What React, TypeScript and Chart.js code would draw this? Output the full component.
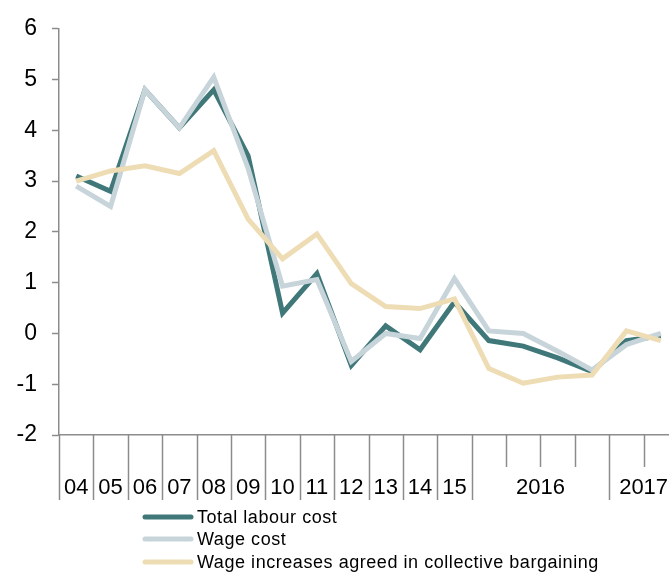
import React, { useEffect, useRef } from "react";
import { Chart, registerables } from "chart.js";

Chart.register(...registerables);

// ---- data ----
const annualLabels = ["04", "05", "06", "07", "08", "09", "10", "11", "12", "13", "14", "15"];
const quarterYears = ["2016", "2017"];
const quarterCounts = [4, 2];

const totalLabourCost = [3.1, 2.8, 4.8, 4.05, 4.8, 3.5, 0.4, 1.18, -0.63, 0.15, -0.32, 0.62, -0.14, -0.25, -0.48, -0.75, -0.14, -0.05];
const wageCost = [2.9, 2.5, 4.8, 4.05, 5.05, 3.25, 0.93, 1.06, -0.55, 0.0, -0.1, 1.08, 0.05, 0.0, -0.35, -0.72, -0.22, 0.0];
const collectiveBargaining = [3.0, 3.2, 3.3, 3.15, 3.6, 2.25, 1.47, 1.96, 0.98, 0.53, 0.49, 0.68, -0.69, -0.98, -0.86, -0.82, 0.05, -0.14];

const seriesNames = ["Total labour cost", "Wage cost", "Wage increases agreed in collective bargaining"];
const seriesColors = ["#40787A", "#C7D5DA", "#EEDDB4"];

const yMin = -2;
const yMax = 6;

// categories built from the label arrays
const categories: string[] = [...annualLabels];
quarterYears.forEach((y, i) => {
  for (let q = 1; q <= quarterCounts[i]; q++) categories.push(`${y} Q${q}`);
});

const FONT = "'Liberation Sans', Arial, sans-serif";
const AXIS_COLOR = "#8C8C8C";

const decorPlugin = {
  id: "decor",
  afterDraw(chart: any) {
    const ctx = chart.ctx;
    const xs = chart.scales.x;
    const area = chart.chartArea;
    const n = categories.length;
    const half = (xs.getPixelForValue(1) - xs.getPixelForValue(0)) / 2;
    const axisY = area.bottom;

    // group boundaries (long lines)
    const longSet = new Set<number>();
    for (let i = 0; i <= annualLabels.length; i++) longSet.add(i);
    let start = annualLabels.length;
    const groups: { label: string; from: number; to: number }[] = [];
    quarterYears.forEach((y, i) => {
      longSet.add(start);
      groups.push({ label: y, from: start, to: start + quarterCounts[i] - 1 });
      start += quarterCounts[i];
    });
    longSet.add(n);

    ctx.save();
    ctx.strokeStyle = AXIS_COLOR;
    ctx.lineWidth = 1.5;
    for (let b = 0; b <= n; b++) {
      const bx = b < n ? xs.getPixelForValue(b) - half : xs.getPixelForValue(n - 1) + half;
      const len = longSet.has(b) ? 65 : 32;
      ctx.beginPath();
      ctx.moveTo(Math.round(bx) + 0.5, axisY);
      ctx.lineTo(Math.round(bx) + 0.5, axisY + len);
      ctx.stroke();
    }

    // x labels
    ctx.fillStyle = "#000";
    ctx.font = `22px ${FONT}`;
    ctx.textAlign = "center";
    ctx.textBaseline = "middle";
    const labelY = axisY + 53;
    annualLabels.forEach((l, i) => {
      ctx.fillText(l, xs.getPixelForValue(i), labelY);
    });
    groups.forEach((g) => {
      const cx = (xs.getPixelForValue(g.from) + xs.getPixelForValue(g.to)) / 2;
      ctx.fillText(g.label, cx, labelY);
    });

    // legend
    const rowsY = [517, 539, 562];
    ctx.textAlign = "left";
    ctx.font = `18px ${FONT}`;
    (ctx as any).letterSpacing = "0.55px";
    chart.data.datasets.forEach((ds: any, i: number) => {
      const y = rowsY[i];
      ctx.strokeStyle = ds.borderColor;
      ctx.lineWidth = 5;
      ctx.lineCap = "round";
      ctx.beginPath();
      ctx.moveTo(145, y);
      ctx.lineTo(191, y);
      ctx.stroke();
      ctx.fillStyle = "#000";
      ctx.fillText(ds.label, 197, y + 1);
    });
    ctx.restore();
  },
};

export default function App() {
  const ref = useRef<HTMLCanvasElement | null>(null);

  useEffect(() => {
    if (!ref.current) return;
    const datasets = [totalLabourCost, wageCost, collectiveBargaining].map((d, i) => ({
      label: seriesNames[i],
      data: d,
      borderColor: seriesColors[i],
      backgroundColor: seriesColors[i],
      borderWidth: 5,
      pointRadius: 0,
      tension: 0,
      fill: false,
      borderJoinStyle: "miter" as const,
      order: 3 - i,
    }));
    const chart = new Chart(ref.current, {
      type: "line",
      data: { labels: categories, datasets },
      options: {
        animation: false,
        responsive: false,
        maintainAspectRatio: false,
        layout: { padding: { top: 18, left: 0, right: 0, bottom: 0 } },
        plugins: { legend: { display: false }, tooltip: { enabled: false } },
        scales: {
          x: {
            type: "category",
            offset: true,
            grid: { display: true, drawOnChartArea: false, drawTicks: false },
            border: { display: true, color: AXIS_COLOR, width: 1.5 },
            ticks: { display: false },
            afterFit(scale: any) {
              scale.height = 139;
            },
          },
          y: {
            min: yMin,
            max: yMax,
            ticks: {
              stepSize: 1,
              color: "#000",
              padding: 15,
              font: { family: FONT, size: 23 },
            },
            grid: {
              display: true,
              drawOnChartArea: false,
              drawTicks: true,
              tickLength: 7,
              tickColor: AXIS_COLOR,
              tickWidth: 1.5,
            },
            border: { display: true, color: AXIS_COLOR, width: 1.5 },
            afterFit(scale: any) {
              scale.width = 59;
            },
          },
        },
      },
      plugins: [decorPlugin],
    });
    return () => chart.destroy();
  }, []);

  return (
    <div
      style={{
        position: "absolute",
        left: 0,
        top: 0,
        width: 669,
        height: 574,
        overflow: "hidden",
        background: "#fff",
      }}
    >
      <canvas ref={ref} width={678} height={574} style={{ width: 678, height: 574, display: "block" }} />
    </div>
  );
}
